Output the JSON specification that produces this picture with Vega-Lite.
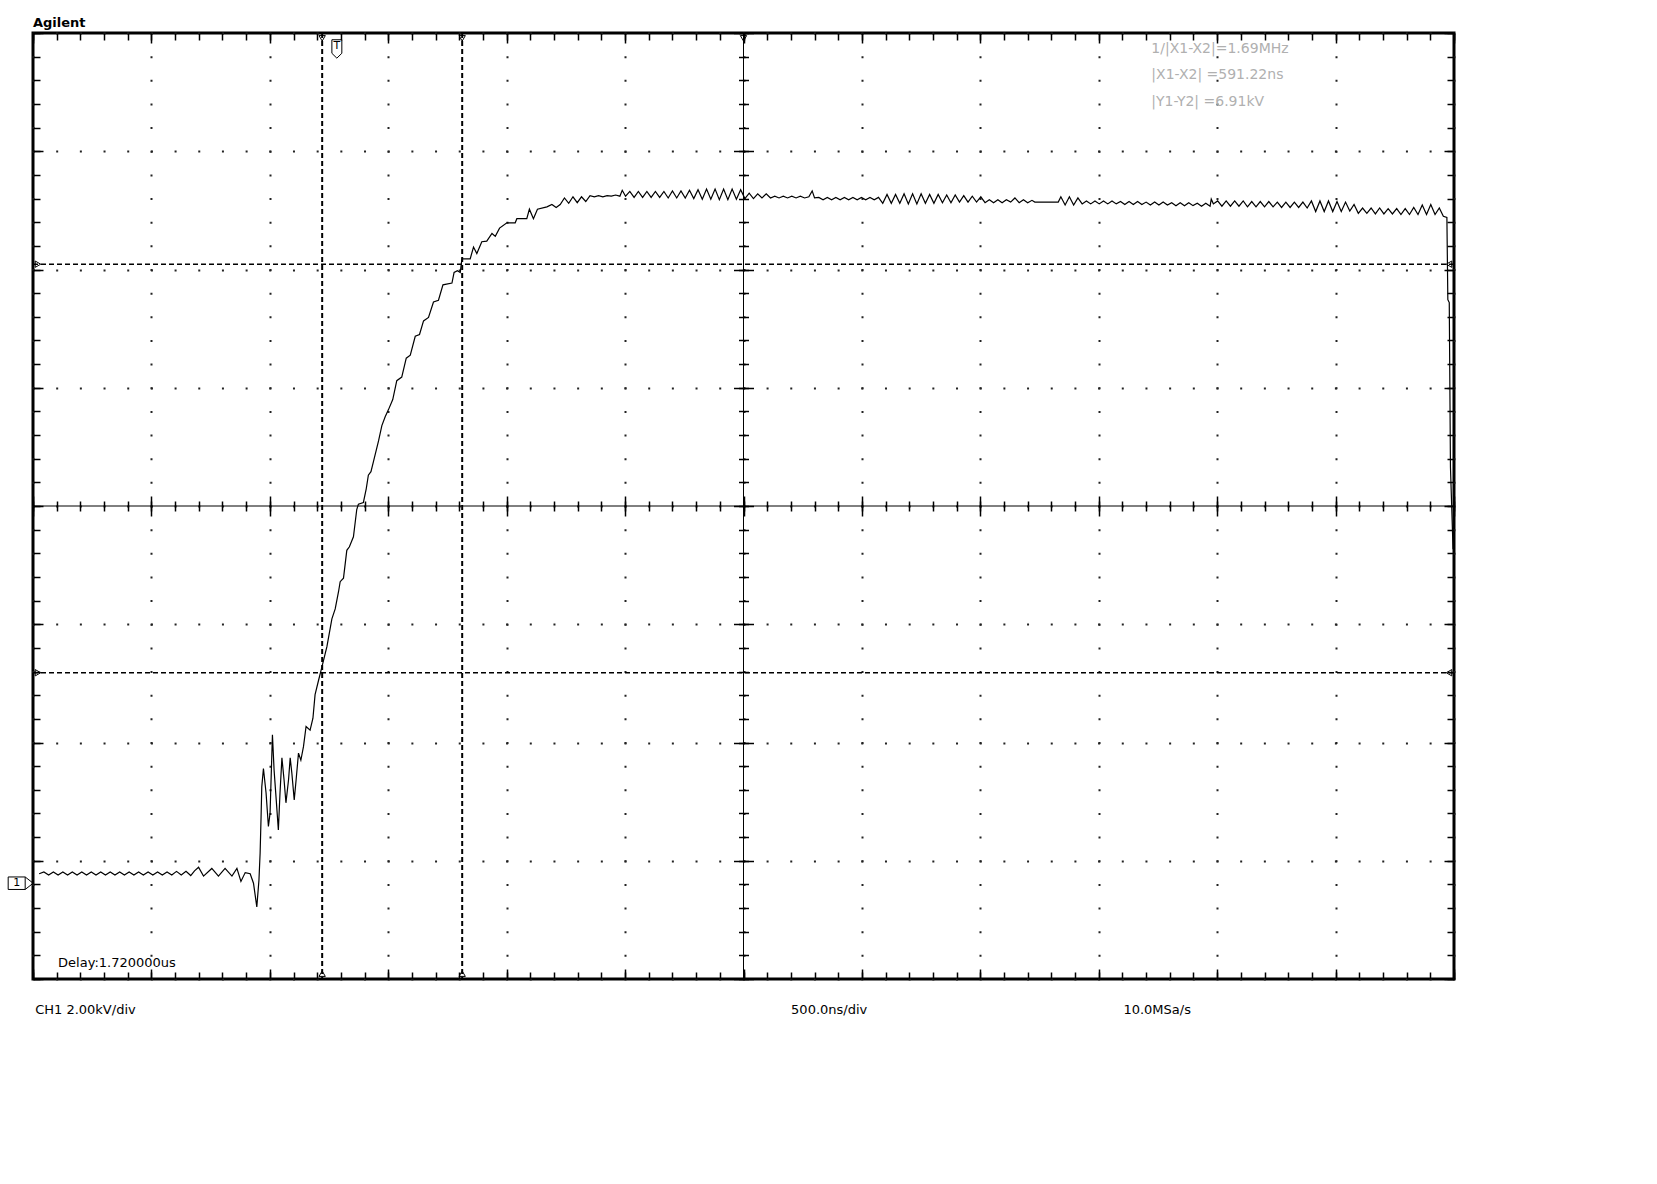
{
  "$schema": "https://vega.github.io/schema/vega-lite/v6.json",
  "width": 1421,
  "height": 946,
  "autosize": "none",
  "padding": {"left": 33, "top": 33, "right": 203, "bottom": 205},
  "background": "#ffffff",
  "config": {
    "view": {"stroke": "#000000", "strokeWidth": 3},
    "axis": {"labels": false, "domain": false, "grid": false, "ticks": true, "title": null, "tickColor": "#000000", "tickWidth": 1.5}
  },
  "data": {"values": [{}]},
  "datasets": {
    "xcur": [{"t": -59}, {"t": 532.2}],
    "ycur": [{"v": 10.45}, {"v": 3.54}],
    "wave": [
      {"t":-1254,"v":0.14},{"t":-1234,"v":0.17},{"t":-1214,"v":0.12},{"t":-1194,"v":0.17},{"t":-1174,"v":0.12},{"t":-1154,"v":0.17},{"t":-1134,"v":0.12},{"t":-1114,"v":0.17},{"t":-1094,"v":0.12},{"t":-1074,"v":0.17},{"t":-1054,"v":0.12},{"t":-1034,"v":0.17},{"t":-1014,"v":0.12},{"t":-994,"v":0.17},{"t":-974,"v":0.12},{"t":-954,"v":0.17},{"t":-934,"v":0.12},{"t":-914,"v":0.17},{"t":-894,"v":0.12},{"t":-874,"v":0.17},{"t":-854,"v":0.12},{"t":-834,"v":0.17},{"t":-814,"v":0.12},{"t":-794,"v":0.17},{"t":-774,"v":0.12},{"t":-754,"v":0.17},{"t":-734,"v":0.12},{"t":-714,"v":0.17},{"t":-694,"v":0.12},{"t":-674,"v":0.18},{"t":-654,"v":0.12},{"t":-634,"v":0.18},{"t":-614,"v":0.11},{"t":-598,"v":0.19},{"t":-581,"v":0.25},{"t":-560,"v":0.10},{"t":-525,"v":0.23},{"t":-497,"v":0.10},{"t":-469,"v":0.23},{"t":-440,"v":0.10},{"t":-419,"v":0.23},{"t":-402,"v":0.01},{"t":-384,"v":0.16},{"t":-363,"v":0.14},{"t":-349,"v":-0.02},{"t":-335,"v":-0.42},{"t":-326,"v":0.03},{"t":-321,"v":0.49},{"t":-317,"v":1.10},{"t":-314,"v":1.61},{"t":-307,"v":1.92},{"t":-296,"v":1.51},{"t":-286,"v":0.94},{"t":-279,"v":1.17},{"t":-269,"v":2.49},{"t":-262,"v":1.89},{"t":-253,"v":1.39},{"t":-244,"v":0.88},{"t":-237,"v":1.51},{"t":-229,"v":2.10},{"t":-220,"v":1.73},{"t":-212,"v":1.34},{"t":-201,"v":1.73},{"t":-194,"v":2.10},{"t":-187,"v":1.84},{"t":-177,"v":1.39},{"t":-169,"v":1.73},{"t":-159,"v":2.18},{"t":-149,"v":2.06},{"t":-138,"v":2.29},{"t":-127,"v":2.63},{"t":-110,"v":2.57},{"t":-98,"v":2.77},{"t":-89,"v":3.17},{"t":-75,"v":3.40},{"t":-60,"v":3.64},{"t":-39,"v":3.98},{"t":-18,"v":4.45},{"t":-4,"v":4.62},{"t":10,"v":4.91},{"t":17,"v":5.08},{"t":31,"v":5.14},{"t":45,"v":5.61},{"t":56,"v":5.67},{"t":73,"v":5.84},{"t":87,"v":6.30},{"t":94,"v":6.39},{"t":115,"v":6.42},{"t":127,"v":6.65},{"t":136,"v":6.88},{"t":147,"v":6.94},{"t":158,"v":7.12},{"t":179,"v":7.46},{"t":193,"v":7.72},{"t":207,"v":7.87},{"t":221,"v":7.99},{"t":239,"v":8.16},{"t":256,"v":8.48},{"t":277,"v":8.54},{"t":296,"v":8.86},{"t":313,"v":8.91},{"t":334,"v":9.23},{"t":352,"v":9.26},{"t":369,"v":9.49},{"t":390,"v":9.55},{"t":411,"v":9.81},{"t":432,"v":9.84},{"t":451,"v":10.10},{"t":489,"v":10.13},{"t":498,"v":10.31},{"t":512,"v":10.34},{"t":524,"v":10.31},{"t":531,"v":10.54},{"t":545,"v":10.54},{"t":566,"v":10.54},{"t":580,"v":10.74},{"t":594,"v":10.63},{"t":615,"v":10.83},{"t":636,"v":10.84},{"t":658,"v":10.97},{"t":672,"v":10.92},{"t":690,"v":11.06},{"t":721,"v":11.15},{"t":756,"v":11.15},{"t":763,"v":11.22},{"t":805,"v":11.22},{"t":816,"v":11.38},{"t":833,"v":11.22},{"t":850,"v":11.38},{"t":890,"v":11.42},{"t":911,"v":11.46},{"t":929,"v":11.41},{"t":946,"v":11.46},
      {"t":964,"v":11.57},{"t":982,"v":11.48},{"t":1000,"v":11.59},{"t":1018,"v":11.49},{"t":1036,"v":11.59},{"t":1054,"v":11.51},{"t":1072,"v":11.61},
      {"t":1090,"v":11.59},{"t":1108,"v":11.61},{"t":1126,"v":11.59},{"t":1144,"v":11.61},{"t":1162,"v":11.60},{"t":1180,"v":11.62},{"t":1198,"v":11.60},
      {"t":1208,"v":11.70},{"t":1222,"v":11.60},
      {"t":1240,"v":11.68},{"t":1258,"v":11.58},{"t":1276,"v":11.68},{"t":1294,"v":11.58},{"t":1312,"v":11.68},{"t":1330,"v":11.58},{"t":1348,"v":11.68},{"t":1366,"v":11.58},{"t":1384,"v":11.68},{"t":1402,"v":11.57},{"t":1420,"v":11.69},{"t":1438,"v":11.57},{"t":1456,"v":11.69},{"t":1474,"v":11.57},{"t":1492,"v":11.70},{"t":1510,"v":11.56},{"t":1528,"v":11.71},
      {"t":1546,"v":11.55},{"t":1564,"v":11.72},{"t":1582,"v":11.55},{"t":1600,"v":11.72},{"t":1618,"v":11.54},{"t":1636,"v":11.72},{"t":1654,"v":11.54},{"t":1672,"v":11.72},{"t":1690,"v":11.55},{"t":1708,"v":11.71},{"t":1726,"v":11.56},
      {"t":1744,"v":11.65},{"t":1762,"v":11.56},{"t":1780,"v":11.64},{"t":1798,"v":11.57},{"t":1816,"v":11.64},{"t":1834,"v":11.57},
      {"t":1852,"v":11.60},{"t":1870,"v":11.57},{"t":1888,"v":11.60},{"t":1906,"v":11.57},{"t":1924,"v":11.60},{"t":1942,"v":11.57},{"t":1960,"v":11.60},{"t":1978,"v":11.57},{"t":1996,"v":11.59},
      {"t":2010,"v":11.69},{"t":2020,"v":11.57},
      {"t":2038,"v":11.58},{"t":2056,"v":11.54},{"t":2074,"v":11.58},{"t":2092,"v":11.54},{"t":2110,"v":11.58},{"t":2128,"v":11.54},{"t":2146,"v":11.58},{"t":2164,"v":11.54},{"t":2182,"v":11.58},{"t":2200,"v":11.54},{"t":2218,"v":11.58},{"t":2236,"v":11.54},{"t":2254,"v":11.58},{"t":2272,"v":11.54},{"t":2290,"v":11.58},
      {"t":2308,"v":11.48},{"t":2326,"v":11.63},{"t":2344,"v":11.48},{"t":2362,"v":11.63},{"t":2380,"v":11.48},{"t":2398,"v":11.64},{"t":2416,"v":11.47},{"t":2434,"v":11.64},{"t":2452,"v":11.47},{"t":2470,"v":11.64},{"t":2488,"v":11.48},{"t":2506,"v":11.63},{"t":2524,"v":11.48},{"t":2542,"v":11.63},{"t":2560,"v":11.49},{"t":2578,"v":11.62},{"t":2596,"v":11.49},{"t":2614,"v":11.62},{"t":2632,"v":11.50},{"t":2650,"v":11.61},{"t":2668,"v":11.50},{"t":2686,"v":11.60},{"t":2704,"v":11.50},{"t":2722,"v":11.59},
      {"t":2740,"v":11.49},{"t":2758,"v":11.54},{"t":2776,"v":11.49},{"t":2794,"v":11.54},{"t":2812,"v":11.49},{"t":2830,"v":11.54},{"t":2848,"v":11.50},{"t":2866,"v":11.57},{"t":2884,"v":11.49},{"t":2902,"v":11.54},{"t":2920,"v":11.49},
      {"t":2938,"v":11.53},{"t":2950,"v":11.50},{"t":3049,"v":11.50},
      {"t":3060,"v":11.59},{"t":3078,"v":11.45},{"t":3096,"v":11.59},{"t":3114,"v":11.45},{"t":3132,"v":11.57},
      {"t":3150,"v":11.47},{"t":3168,"v":11.52},{"t":3186,"v":11.47},{"t":3204,"v":11.52},{"t":3222,"v":11.47},{"t":3240,"v":11.52},{"t":3258,"v":11.47},{"t":3276,"v":11.52},{"t":3294,"v":11.47},{"t":3312,"v":11.51},{"t":3330,"v":11.46},{"t":3348,"v":11.51},{"t":3366,"v":11.46},{"t":3384,"v":11.51},{"t":3402,"v":11.46},{"t":3420,"v":11.50},{"t":3438,"v":11.45},{"t":3456,"v":11.50},{"t":3474,"v":11.45},{"t":3492,"v":11.50},{"t":3510,"v":11.45},{"t":3528,"v":11.49},{"t":3546,"v":11.44},{"t":3564,"v":11.49},{"t":3582,"v":11.44},{"t":3600,"v":11.49},{"t":3618,"v":11.44},{"t":3636,"v":11.48},{"t":3654,"v":11.43},{"t":3672,"v":11.48},{"t":3690,"v":11.43},
      {"t":3695,"v":11.55},{"t":3704,"v":11.47},
      {"t":3722,"v":11.52},{"t":3740,"v":11.43},{"t":3758,"v":11.52},{"t":3776,"v":11.43},{"t":3794,"v":11.52},{"t":3812,"v":11.43},{"t":3830,"v":11.52},{"t":3848,"v":11.42},{"t":3866,"v":11.51},{"t":3884,"v":11.42},{"t":3902,"v":11.51},{"t":3920,"v":11.42},{"t":3938,"v":11.51},{"t":3956,"v":11.42},{"t":3974,"v":11.50},{"t":3992,"v":11.41},{"t":4010,"v":11.50},{"t":4028,"v":11.41},{"t":4046,"v":11.50},{"t":4064,"v":11.41},{"t":4082,"v":11.50},{"t":4100,"v":11.40},
      {"t":4118,"v":11.52},{"t":4136,"v":11.34},{"t":4154,"v":11.52},{"t":4172,"v":11.34},{"t":4190,"v":11.52},{"t":4208,"v":11.34},{"t":4226,"v":11.51},{"t":4244,"v":11.34},{"t":4262,"v":11.50},{"t":4280,"v":11.35},{"t":4298,"v":11.46},
      {"t":4316,"v":11.31},{"t":4334,"v":11.40},{"t":4352,"v":11.31},{"t":4370,"v":11.40},{"t":4388,"v":11.30},{"t":4406,"v":11.40},{"t":4424,"v":11.30},{"t":4442,"v":11.39},{"t":4460,"v":11.30},{"t":4478,"v":11.39},{"t":4496,"v":11.29},{"t":4514,"v":11.39},{"t":4532,"v":11.29},{"t":4550,"v":11.41},{"t":4568,"v":11.29},{"t":4586,"v":11.45},{"t":4604,"v":11.29},{"t":4622,"v":11.46},{"t":4640,"v":11.29},{"t":4658,"v":11.40},
      {"t":4675,"v":11.26},{"t":4690,"v":11.24},{"t":4694,"v":9.85},{"t":4700,"v":9.80},{"t":4705,"v":7.02},{"t":4716,"v":5.63}
    ]
  },
  "layer": [
    {
      "data": {"name": "wave"},
      "mark": {"type": "line", "opacity": 0},
      "encoding": {
        "x": {"field": "t", "type": "quantitative", "scale": {"domain": [-1280, 4720], "nice": false, "zero": false},
          "axis": {"orient": "bottom", "offset": -10, "tickSize": 10, "grid": true, "gridColor": "#222222", "gridWidth": 2, "gridDash": [2, 21.65], "gridDashOffset": 1,
            "values": [-1280,-780,-280,220,720,1220,1720,2220,2720,3220,3720,4220,4720]}},
        "y": {"field": "v", "type": "quantitative", "scale": {"domain": [-1.64, 14.36], "nice": false, "zero": false},
          "axis": {"orient": "left", "offset": -10, "tickSize": 10, "grid": true, "gridColor": "#222222", "gridWidth": 2, "gridDash": [2, 21.68], "gridDashOffset": 1,
            "values": [-1.64,0.36,2.36,4.36,6.36,8.36,10.36,12.36,14.36]}}
      }
    },
    {
      "data": {"name": "wave"},
      "mark": {"type": "line", "opacity": 0},
      "encoding": {
        "x": {"field": "t", "type": "quantitative", "scale": {"domain": [-1280, 4720], "nice": false, "zero": false},
          "axis": {"orient": "top", "offset": -10, "tickSize": 10, "values": [-1280,-780,-280,220,720,1220,1720,2220,2720,3220,3720,4220,4720]}},
        "y": {"field": "v", "type": "quantitative", "scale": {"domain": [-1.64, 14.36], "nice": false, "zero": false},
          "axis": {"orient": "right", "offset": -10, "tickSize": 10, "values": [-1.64,0.36,2.36,4.36,6.36,8.36,10.36,12.36,14.36]}}
      }
    },
    {
      "data": {"name": "wave"},
      "mark": {"type": "line", "opacity": 0},
      "encoding": {
        "x": {"field": "t", "type": "quantitative", "scale": {"domain": [-1280, 4720], "nice": false, "zero": false},
          "axis": {"orient": "top", "offset": -7, "tickSize": 7, "values": [-1280,-1180,-1080,-980,-880,-780,-680,-580,-480,-380,-280,-180,-80,20,120,220,320,420,520,620,720,820,920,1020,1120,1220,1320,1420,1520,1620,1720,1820,1920,2020,2120,2220,2320,2420,2520,2620,2720,2820,2920,3020,3120,3220,3320,3420,3520,3620,3720,3820,3920,4020,4120,4220,4320,4420,4520,4620,4720]}},
        "y": {"field": "v", "type": "quantitative", "scale": {"domain": [-1.64, 14.36], "nice": false, "zero": false},
          "axis": {"orient": "right", "offset": -7, "tickSize": 7, "values": [-1.64,-1.24,-0.84,-0.44,-0.04,0.36,0.76,1.16,1.56,1.96,2.36,2.76,3.16,3.56,3.96,4.36,4.76,5.16,5.56,5.96,6.36,6.76,7.16,7.56,7.96,8.36,8.76,9.16,9.56,9.96,10.36,10.76,11.16,11.56,11.96,12.36,12.76,13.16,13.56,13.96,14.36]}}
      }
    },
    {
      "data": {"name": "wave"},
      "mark": {"type": "line", "opacity": 0},
      "encoding": {
        "x": {"field": "t", "type": "quantitative", "scale": {"domain": [-1280, 4720], "nice": false, "zero": false},
          "axis": {"orient": "bottom", "offset": -478, "tickSize": 10, "values": [-1280,-1180,-1080,-980,-880,-780,-680,-580,-480,-380,-280,-180,-80,20,120,220,320,420,520,620,720,820,920,1020,1120,1220,1320,1420,1520,1620,1720,1820,1920,2020,2120,2220,2320,2420,2520,2620,2720,2820,2920,3020,3120,3220,3320,3420,3520,3620,3720,3820,3920,4020,4120,4220,4320,4420,4520,4620,4720]}},
        "y": {"field": "v", "type": "quantitative", "scale": {"domain": [-1.64, 14.36], "nice": false, "zero": false},
          "axis": {"orient": "left", "offset": -715.5, "tickSize": 10, "values": [-1.64,-1.24,-0.84,-0.44,-0.04,0.36,0.76,1.16,1.56,1.96,2.36,2.76,3.16,3.56,3.96,4.36,4.76,5.16,5.56,5.96,6.36,6.76,7.16,7.56,7.96,8.36,8.76,9.16,9.56,9.96,10.36,10.76,11.16,11.56,11.96,12.36,12.76,13.16,13.56,13.96,14.36]}}
      }
    },
    {
      "data": {"name": "wave"},
      "mark": {"type": "line", "opacity": 0},
      "encoding": {
        "x": {"field": "t", "type": "quantitative", "scale": {"domain": [-1280, 4720], "nice": false, "zero": false},
          "axis": {"orient": "bottom", "offset": -483, "tickSize": 20, "values": [-1280,-780,-280,220,720,1220,1720,2220,2720,3220,3720,4220,4720]}},
        "y": {"field": "v", "type": "quantitative", "scale": {"domain": [-1.64, 14.36], "nice": false, "zero": false},
          "axis": {"orient": "left", "offset": -720.5, "tickSize": 20, "values": [-1.64,0.36,2.36,4.36,6.36,8.36,10.36,12.36,14.36]}}
      }
    },
    {
      "mark": {"type": "rule", "color": "#000000", "strokeWidth": 1},
      "encoding": {"x": {"datum": 1720, "type": "quantitative", "axis": null}}
    },
    {
      "mark": {"type": "rule", "color": "#000000", "strokeWidth": 1},
      "encoding": {"y": {"datum": 6.36, "type": "quantitative", "axis": null}}
    },
    {
      "data": {"name": "xcur"},
      "mark": {"type": "rule", "color": "#000000", "strokeWidth": 2, "strokeDash": [5, 3]},
      "encoding": {"x": {"field": "t", "type": "quantitative", "axis": null}}
    },
    {
      "data": {"name": "ycur"},
      "mark": {"type": "rule", "color": "#000000", "strokeWidth": 1.5, "strokeDash": [5, 3]},
      "encoding": {"y": {"field": "v", "type": "quantitative", "axis": null}}
    },
    {
      "data": {"name": "xcur"},
      "mark": {"type": "point", "shape": "triangle-down", "size": 40, "filled": false, "color": "#000000", "strokeWidth": 1, "opacity": 1},
      "encoding": {"x": {"field": "t", "type": "quantitative", "axis": null}, "y": {"datum": 14.27, "type": "quantitative", "axis": null}}
    },
    {
      "data": {"name": "xcur"},
      "mark": {"type": "point", "shape": "triangle-up", "size": 40, "filled": false, "color": "#000000", "strokeWidth": 1, "opacity": 1},
      "encoding": {"x": {"field": "t", "type": "quantitative", "axis": null}, "y": {"datum": -1.55, "type": "quantitative", "axis": null}}
    },
    {
      "data": {"name": "ycur"},
      "mark": {"type": "point", "shape": "triangle-right", "size": 40, "filled": false, "color": "#000000", "strokeWidth": 1, "opacity": 1},
      "encoding": {"y": {"field": "v", "type": "quantitative", "axis": null}, "x": {"datum": -1259, "type": "quantitative", "axis": null}}
    },
    {
      "data": {"name": "ycur"},
      "mark": {"type": "point", "shape": "triangle-left", "size": 40, "filled": false, "color": "#000000", "strokeWidth": 1, "opacity": 1},
      "encoding": {"y": {"field": "v", "type": "quantitative", "axis": null}, "x": {"datum": 4699, "type": "quantitative", "axis": null}}
    },
    {
      "mark": {"type": "point", "shape": "triangle-down", "size": 40, "filled": false, "color": "#000000", "strokeWidth": 1, "opacity": 1},
      "encoding": {"x": {"datum": 1720, "type": "quantitative", "axis": null}, "y": {"datum": 14.27, "type": "quantitative", "axis": null}}
    },
    {
      "data": {"name": "wave"},
      "mark": {"type": "line", "color": "#000000", "strokeWidth": 1.2},
      "encoding": {
        "x": {"field": "t", "type": "quantitative", "scale": {"domain": [-1280, 4720], "nice": false, "zero": false},
          "axis": {"orient": "bottom", "offset": -7, "tickSize": 7, "values": [-1280,-1180,-1080,-980,-880,-780,-680,-580,-480,-380,-280,-180,-80,20,120,220,320,420,520,620,720,820,920,1020,1120,1220,1320,1420,1520,1620,1720,1820,1920,2020,2120,2220,2320,2420,2520,2620,2720,2820,2920,3020,3120,3220,3320,3420,3520,3620,3720,3820,3920,4020,4120,4220,4320,4420,4520,4620,4720]}},
        "y": {"field": "v", "type": "quantitative", "scale": {"domain": [-1.64, 14.36], "nice": false, "zero": false},
          "axis": {"orient": "left", "offset": -7, "tickSize": 7, "values": [-1.64,-1.24,-0.84,-0.44,-0.04,0.36,0.76,1.16,1.56,1.96,2.36,2.76,3.16,3.56,3.96,4.36,4.76,5.16,5.56,5.96,6.36,6.76,7.16,7.56,7.96,8.36,8.76,9.16,9.56,9.96,10.36,10.76,11.16,11.56,11.96,12.36,12.76,13.16,13.56,13.96,14.36]}}
      }
    },
    {
      "mark": {"type": "point", "shape": "M-1,-0.5L0.36,-0.5L1,0L0.36,0.5L-1,0.5ZM0.36,-0.5L0.36,0.5", "size": 625, "filled": false, "color": "#000000", "strokeWidth": 1, "opacity": 1},
      "encoding": {"x": {"datum": -1332, "type": "quantitative", "axis": null}, "y": {"datum": -0.02, "type": "quantitative", "axis": null}}
    },
    {
      "mark": {"type": "text", "text": "1", "font": "DejaVu Sans", "fontSize": 11, "align": "center", "baseline": "middle", "color": "#000000"},
      "encoding": {"x": {"datum": -1349, "type": "quantitative", "axis": null}, "y": {"datum": -0.02, "type": "quantitative", "axis": null}}
    },
    {
      "mark": {"type": "point", "shape": "M-0.54,-1L0.54,-1L0.54,0.47L0,1L-0.54,0.47Z", "size": 339, "filled": false, "color": "#000000", "strokeWidth": 1, "opacity": 1},
      "encoding": {"x": {"datum": 3, "type": "quantitative", "axis": null}, "y": {"datum": 14.09, "type": "quantitative", "axis": null}}
    },
    {
      "mark": {"type": "text", "text": "T", "font": "DejaVu Sans", "fontSize": 11, "align": "center", "baseline": "middle", "color": "#000000"},
      "encoding": {"x": {"datum": 3, "type": "quantitative", "axis": null}, "y": {"datum": 14.14, "type": "quantitative", "axis": null}}
    },
    {
      "mark": {"type": "text", "text": "Agilent", "font": "DejaVu Sans", "fontWeight": "bold", "fontSize": 13, "align": "left", "baseline": "alphabetic", "color": "#000000"},
      "encoding": {"x": {"datum": -1280, "type": "quantitative", "axis": null}, "y": {"datum": 14.46, "type": "quantitative", "axis": null}}
    },
    {
      "mark": {"type": "text", "text": "1/|X1-X2|=1.69MHz", "font": "DejaVu Sans", "fontSize": 14, "align": "left", "baseline": "middle", "color": "#b0b0b0"},
      "encoding": {"x": {"datum": 3442, "type": "quantitative", "axis": null}, "y": {"datum": 14.095, "type": "quantitative", "axis": null}}
    },
    {
      "mark": {"type": "text", "text": "|X1-X2|  =591.22ns", "font": "DejaVu Sans", "fontSize": 14, "align": "left", "baseline": "middle", "color": "#b0b0b0"},
      "encoding": {"x": {"datum": 3442, "type": "quantitative", "axis": null}, "y": {"datum": 13.649, "type": "quantitative", "axis": null}}
    },
    {
      "mark": {"type": "text", "text": "|Y1-Y2|  =6.91kV", "font": "DejaVu Sans", "fontSize": 14, "align": "left", "baseline": "middle", "color": "#b0b0b0"},
      "encoding": {"x": {"datum": 3442, "type": "quantitative", "axis": null}, "y": {"datum": 13.201, "type": "quantitative", "axis": null}}
    },
    {
      "mark": {"type": "text", "text": "Delay:1.720000us", "font": "DejaVu Sans", "fontSize": 13, "align": "left", "baseline": "middle", "color": "#000000"},
      "encoding": {"x": {"datum": -1174, "type": "quantitative", "axis": null}, "y": {"datum": -1.37, "type": "quantitative", "axis": null}}
    },
    {
      "mark": {"type": "text", "text": "CH1 2.00kV/div", "font": "DejaVu Sans", "fontSize": 13, "align": "left", "baseline": "middle", "color": "#000000"},
      "encoding": {"x": {"datum": -1271, "type": "quantitative", "axis": null}, "y": {"datum": -2.165, "type": "quantitative", "axis": null}}
    },
    {
      "mark": {"type": "text", "text": "500.0ns/div", "font": "DejaVu Sans", "fontSize": 13, "align": "left", "baseline": "middle", "color": "#000000"},
      "encoding": {"x": {"datum": 1921, "type": "quantitative", "axis": null}, "y": {"datum": -2.165, "type": "quantitative", "axis": null}}
    },
    {
      "mark": {"type": "text", "text": "10.0MSa/s", "font": "DejaVu Sans", "fontSize": 13, "align": "left", "baseline": "middle", "color": "#000000"},
      "encoding": {"x": {"datum": 3324, "type": "quantitative", "axis": null}, "y": {"datum": -2.165, "type": "quantitative", "axis": null}}
    }
  ],
  "resolve": {"axis": {"x": "independent", "y": "independent"}}
}
